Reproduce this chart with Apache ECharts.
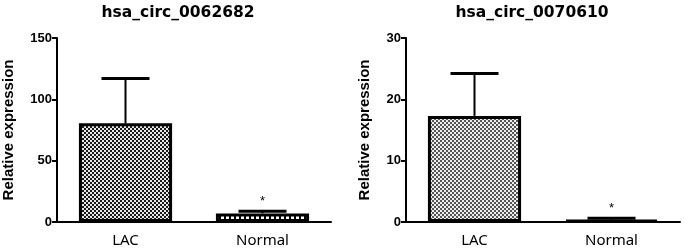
<!DOCTYPE html>
<html>
<head>
<meta charset="utf-8">
<script src="https://cdn.jsdelivr.net/npm/echarts@6/dist/echarts.min.js"></script>
<style>html,body{margin:0;padding:0;background:#fff}#c{width:685px;height:251px}</style>
</head>
<body>
<div id="c"></div>
<script>
const categories = ['LAC', 'Normal'];
const titles = ['hsa_circ_0062682', 'hsa_circ_0070610'];
const means1 = [80.5, 7.0];
const errs1 = [36.5, 1.8];
const means2 = [17.3, 0.35];
const errs2 = [6.9, 0.25];
const sig = ['', '*'];
const yMax = [150, 30];
const yInterval = [50, 10];

function tile(w, h, draw) {
  const c = document.createElement('canvas');
  c.width = w; c.height = h;
  draw(c.getContext('2d'));
  return { image: c, repeat: 'repeat' };
}
const patDark = tile(4, 4, g => {
  g.fillStyle = '#e8e8e8'; g.fillRect(0, 0, 4, 4);
  g.fillStyle = '#1a1a1a'; g.fillRect(0, 0, 2, 2); g.fillRect(2, 2, 2, 2);
});
const patLight = tile(4, 4, g => {
  g.fillStyle = '#eeeeee'; g.fillRect(0, 0, 4, 4);
  g.fillStyle = '#555555'; g.fillRect(0, 0, 2, 2); g.fillRect(2, 2, 2, 2);
});
const patBlocks = tile(5, 5, g => {
  g.fillStyle = '#000'; g.fillRect(0, 0, 5, 5);
  g.fillStyle = '#fff'; g.fillRect(1, 1, 3, 3);
});
const fills = [[patDark, patBlocks], [patLight, '#000']];

const chart = echarts.init(document.getElementById('c'), null, { renderer: 'canvas' });

const grids = [
  { left: 49, right: 354, top: 38, bottom: 29 },
  { left: 406, right: 5, top: 38, bottom: 29 }
];
const nameGaps = [41, 34];
const titleX = [173, 527];
const allMeans = [means1, means2];
const allErrs = [errs1, errs2];

const option = {
  animation: false,
  title: titles.map((t, i) => ({
    text: t, left: titleX[i], top: 0, textAlign: 'center',
    textStyle: { fontFamily: 'DejaVu Sans', fontWeight: 'bold', fontSize: 15.5, color: '#000' }
  })),
  grid: grids,
  xAxis: grids.map((g, i) => ({
    type: 'category', gridIndex: i, data: categories,
    axisLine: { lineStyle: { color: '#000', width: 2 } },
    axisTick: { alignWithLabel: true, length: 5, lineStyle: { color: '#000', width: 2 } },
    axisLabel: { fontFamily: 'Noto Sans', fontSize: 15, color: '#000', margin: 11 }
  })),
  yAxis: grids.map((g, i) => ({
    type: 'value', gridIndex: i, min: 0, max: yMax[i], interval: yInterval[i],
    name: 'Relative expression', nameLocation: 'middle', nameGap: nameGaps[i],
    nameTextStyle: { fontFamily: 'Liberation Sans', fontWeight: 'bold', fontSize: 15, color: '#000' },
    axisLine: { show: true, lineStyle: { color: '#000', width: 2 } },
    axisTick: { show: true, length: 5, lineStyle: { color: '#000', width: 2 } },
    axisLabel: { fontFamily: 'Liberation Sans', fontWeight: 'bold', fontSize: 13, color: '#000', margin: 5 },
    splitLine: { show: false }
  })),
  series: []
};

[0, 1].forEach(i => {
  option.series.push({
    type: 'bar', xAxisIndex: i, yAxisIndex: i, barWidth: '68%',
    data: allMeans[i].map((v, k) => ({
      value: v,
      itemStyle: { color: fills[i][k], borderColor: '#000', borderWidth: 3 }
    })),
    z: 2
  });
  option.series.push({
    type: 'custom', xAxisIndex: i, yAxisIndex: i, z: 3,
    data: allMeans[i].map((v, k) => [k, v, allErrs[i][k]]),
    renderItem: (params, api) => {
      const k = api.value(0), m = api.value(1), e = api.value(2);
      const p0 = api.coord([k, m]);
      const p1 = api.coord([k, m + e]);
      const children = [
        { type: 'line', shape: { x1: p0[0], y1: p0[1], x2: p1[0], y2: p1[1] }, style: { stroke: '#000', lineWidth: 2 } },
        { type: 'line', shape: { x1: p1[0] - 24, y1: p1[1], x2: p1[0] + 24, y2: p1[1] }, style: { stroke: '#000', lineWidth: 3 } }
      ];
      if (sig[k]) {
        children.push({ type: 'text', style: { text: sig[k], x: p1[0], y: p1[1] - 10, textAlign: 'center', textVerticalAlign: 'middle', fontSize: 13, fontFamily: 'Liberation Sans', fill: '#000' } });
      }
      return { type: 'group', children };
    }
  });
});

chart.setOption(option);
</script>
</body>
</html>
